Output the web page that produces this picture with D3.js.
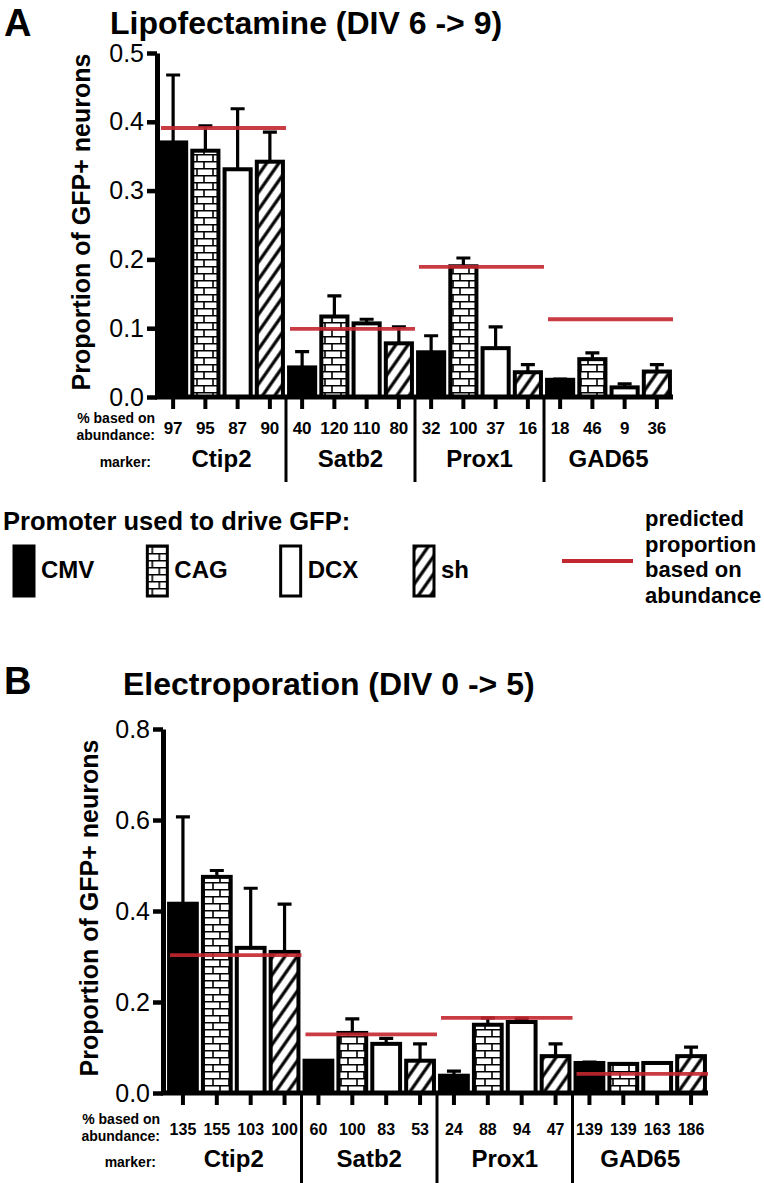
<!DOCTYPE html>
<html>
<head>
<meta charset="utf-8">
<script src="https://cdn.jsdelivr.net/npm/d3@7"></script>
<style>
  body { margin: 0; background: #fff; }
  text { font-family: "Liberation Sans", Arial, Helvetica, sans-serif; fill: #000; }
</style>
</head>
<body>
<script>
// groups and promoters
var markers = ["Ctip2", "Satb2", "Prox1", "GAD65"];
var promoters = ["CMV", "CAG", "DCX", "sh"];

// panel A : Lipofectamine (DIV 6 -> 9)
var lipoMean = [0.370, 0.358, 0.331, 0.342, 0.043, 0.117, 0.107, 0.078, 0.065, 0.190, 0.071, 0.036, 0.025, 0.055, 0.014, 0.037];
var lipoSem  = [0.098, 0.036, 0.088, 0.043, 0.023, 0.030, 0.006, 0.024, 0.024, 0.012, 0.031, 0.011, 0.001, 0.009, 0.005, 0.010];
var lipoPct  = ["97", "95", "87", "90", "40", "120", "110", "80", "32", "100", "37", "16", "18", "46", "9", "36"];
var lipoPred = [0.391, 0.099, 0.189, 0.113];
var lipoTicks = [0, 0.1, 0.2, 0.3, 0.4, 0.5];

// panel B : Electroporation (DIV 0 -> 5)
var elecMean = [0.416, 0.475, 0.319, 0.310, 0.071, 0.132, 0.108, 0.071, 0.038, 0.150, 0.156, 0.081, 0.066, 0.064, 0.066, 0.081];
var elecSem  = [0.191, 0.014, 0.131, 0.105, 0.000, 0.031, 0.012, 0.037, 0.010, 0.015, 0.008, 0.027, 0.002, 0.000, 0.000, 0.020];
var elecPct  = ["135", "155", "103", "100", "60", "100", "83", "53", "24", "88", "94", "47", "139", "139", "163", "186"];
var elecPred = [0.303, 0.129, 0.165, 0.042];
var elecTicks = [0, 0.2, 0.4, 0.6, 0.8];

var RED = "#c3272f";

var svg = d3.select("body").append("svg")
  .attr("width", 764)
  .attr("height", 1183);

// fill patterns: brick (CAG) and hatch (sh)
var defs = svg.append("defs");
var brick = defs.append("pattern")
  .attr("id", "brick")
  .attr("patternUnits", "userSpaceOnUse")
  .attr("width", 16).attr("height", 14);
brick.append("rect").attr("width", 16).attr("height", 14).attr("fill", "#fff");
brick.append("path")
  .attr("d", "M0,0.75H16M0,7.75H16M5,0V7M12,7V14")
  .attr("stroke", "#000").attr("stroke-width", 1.6);

var hatch = defs.append("pattern")
  .attr("id", "hatch")
  .attr("patternUnits", "userSpaceOnUse")
  .attr("width", 10).attr("height", 10)
  .attr("patternTransform", "rotate(35)");
hatch.append("rect").attr("width", 10).attr("height", 10).attr("fill", "#fff");
hatch.append("line")
  .attr("x1", 2).attr("y1", 0).attr("x2", 2).attr("y2", 10)
  .attr("stroke", "#000").attr("stroke-width", 3.2);

var fills = { CMV: "#000", CAG: "url(#brick)", DCX: "#fff", sh: "url(#hatch)" };

var categories = [];
markers.forEach(function(m) {
  promoters.forEach(function(p) { categories.push({ marker: m, promoter: p, key: m + "-" + p }); });
});

function panel(o) {
  var g = svg.append("g");

  var x = d3.scaleBand()
    .domain(categories.map(function(c) { return c.key; }))
    .range([o.x0, o.x1])
    .paddingInner(o.pad)
    .paddingOuter(o.pad / 2);

  var y = d3.scaleLinear()
    .domain([0, o.yMax])
    .range([o.yBottom, o.yTop]);

  var step = x.step();

  // panel letter and title
  g.append("text").attr("x", 4).attr("y", o.letterY)
    .style("font-size", "38px").style("font-weight", "bold").text(o.letter);
  g.append("text").attr("x", o.titleX).attr("y", o.titleY)
    .style("font-size", "32px").style("font-weight", "bold").text(o.title);

  // y label
  g.append("text")
    .attr("transform", "translate(" + o.ylabX + "," + ((o.yTop + o.yBottom) / 2 - 3) + ") rotate(-90)")
    .attr("text-anchor", "middle")
    .style("font-size", "25px").style("font-weight", "bold")
    .text("Proportion of GFP+ neurons");

  // bars
  var bar = g.selectAll(".bar")
    .data(categories)
    .enter().append("g");

  bar.append("rect")
    .attr("x", function(d) { return x(d.key); })
    .attr("y", function(d, i) { return y(o.mean[i]); })
    .attr("width", x.bandwidth())
    .attr("height", function(d, i) { return y(0) - y(o.mean[i]); })
    .attr("fill", function(d) { return fills[d.promoter]; })
    .attr("stroke", "#000")
    .attr("stroke-width", 4);

  // error bars (upper only)
  bar.append("path")
    .attr("d", function(d, i) {
      var cx = x(d.key) + x.bandwidth() / 2;
      var top = y(o.mean[i] + o.sem[i]);
      return "M" + cx + "," + y(o.mean[i]) + "V" + top + "M" + (cx - 7) + "," + top + "H" + (cx + 7);
    })
    .attr("fill", "none")
    .attr("stroke", "#000")
    .attr("stroke-width", 3.2);

  // axes
  var yAxis = d3.axisLeft(y)
    .tickValues(o.ticks)
    .tickSize(10)
    .tickSizeOuter(0)
    .tickPadding(3)
    .tickFormat(d3.format(".1f"));
  var ya = g.append("g")
    .attr("transform", "translate(" + o.axisX + ",0)")
    .call(yAxis);
  ya.select(".domain").attr("stroke-width", 5);
  ya.selectAll(".tick line").attr("stroke-width", 4.5);
  ya.selectAll(".tick text")
    .style("font-size", "25px")
    .style("font-family", "'Liberation Sans', Arial, sans-serif")
    .attr("fill", "#000");

  var xAxis = d3.axisBottom(x).tickSize(12).tickSizeOuter(0).tickFormat("");
  var xa = g.append("g")
    .attr("transform", "translate(0," + y(0) + ")")
    .call(xAxis);
  xa.select(".domain").attr("d", "M" + (o.axisX - 2) + ",0H" + o.x1).attr("stroke-width", 5);
  xa.selectAll(".tick line").attr("stroke-width", 4);

  // predicted proportion lines
  g.selectAll(".pred")
    .data(markers)
    .enter().append("line")
    .attr("x1", function(m, j) { return x(categories[j * 4].key) - step * o.pad / 2 + 4; })
    .attr("x2", function(m, j) { return x(categories[j * 4 + 3].key) + x.bandwidth() + step * o.pad / 2; })
    .attr("y1", function(m, j) { return y(o.pred[j]); })
    .attr("y2", function(m, j) { return y(o.pred[j]); })
    .attr("stroke", RED)
    .attr("stroke-opacity", 0.9)
    .attr("stroke-width", 3.8);

  // group separators
  g.selectAll(".sep")
    .data([1, 2, 3])
    .enter().append("line")
    .attr("x1", function(j) { return x(categories[j * 4].key) - step * o.pad / 2; })
    .attr("x2", function(j) { return x(categories[j * 4].key) - step * o.pad / 2; })
    .attr("y1", y(0))
    .attr("y2", o.sepEnd)
    .attr("stroke", "#000")
    .attr("stroke-width", 3);

  // % based on abundance labels
  g.selectAll(".pct")
    .data(categories)
    .enter().append("text")
    .attr("x", function(d) { return x(d.key) + x.bandwidth() / 2; })
    .attr("y", o.pctY)
    .attr("text-anchor", "middle")
    .style("font-size", o.pctSize + "px")
    .style("font-weight", "bold")
    .text(function(d, i) { return o.pct[i]; });

  g.selectAll(".mk")
    .data(markers)
    .enter().append("text")
    .attr("x", function(m, j) { return (x(categories[j * 4].key) + x(categories[j * 4 + 3].key) + x.bandwidth()) / 2; })
    .attr("y", o.markerY)
    .attr("text-anchor", "middle")
    .style("font-size", o.markerSize + "px")
    .style("font-weight", "bold")
    .text(function(m) { return m; });

  // row headers
  var rh = g.append("g").style("font-size", "14px").style("font-weight", "bold").attr("text-anchor", "end");
  rh.append("text").attr("x", o.headX).attr("y", o.pctY - 11).text("% based on");
  rh.append("text").attr("x", o.headX).attr("y", o.pctY + 6).text("abundance:");
  rh.append("text").attr("x", o.headX - 4).attr("y", o.markerY).text("marker:");
}

panel({
  letter: "A", letterY: 36, title: "Lipofectamine (DIV 6 -> 9)", titleX: 110, titleY: 34,
  mean: lipoMean, sem: lipoSem, pct: lipoPct, pred: lipoPred, ticks: lipoTicks,
  yMax: 0.5, yTop: 53, yBottom: 397, x0: 157, x1: 673, axisX: 157, pad: 0.19,
  ylabX: 90, pctY: 434, pctSize: 17, markerY: 467, markerSize: 24, sepEnd: 482, headX: 155
});

panel({
  letter: "B", letterY: 694, title: "Electroporation (DIV 0 -> 5)", titleX: 123, titleY: 695,
  mean: elecMean, sem: elecSem, pct: elecPct, pred: elecPred, ticks: elecTicks,
  yMax: 0.8, yTop: 729, yBottom: 1093, x0: 166, x1: 708, axisX: 163, pad: 0.18,
  ylabX: 98, pctY: 1135, pctSize: 16, markerY: 1167, markerSize: 24, sepEnd: 1183, headX: 160
});

// legend
var leg = svg.append("g");
leg.append("text").attr("x", 3).attr("y", 530)
  .style("font-size", "25.5px").style("font-weight", "bold")
  .text("Promoter used to drive GFP:");

var swX = d3.scalePoint().domain(promoters).range([14, 414]);
var sw = leg.selectAll(".sw")
  .data(promoters)
  .enter().append("g")
  .attr("transform", function(p) { return "translate(" + swX(p) + ",546)"; });
sw.append("rect")
  .attr("width", 20).attr("height", 50)
  .attr("fill", function(p) { return fills[p]; })
  .attr("stroke", "#000").attr("stroke-width", 3);
sw.append("text")
  .attr("x", 27).attr("y", 32)
  .style("font-size", "24px").style("font-weight", "bold")
  .text(function(p) { return p; });

leg.append("line")
  .attr("x1", 562).attr("x2", 633).attr("y1", 561).attr("y2", 561)
  .attr("stroke", RED).attr("stroke-width", 3.8);
leg.selectAll(".lt")
  .data(["predicted", "proportion", "based on", "abundance"])
  .enter().append("text")
  .attr("x", 645)
  .attr("y", function(d, i) { return 526 + i * 25.7; })
  .style("font-size", "22px").style("font-weight", "bold")
  .text(function(d) { return d; });
</script>
</body>
</html>
